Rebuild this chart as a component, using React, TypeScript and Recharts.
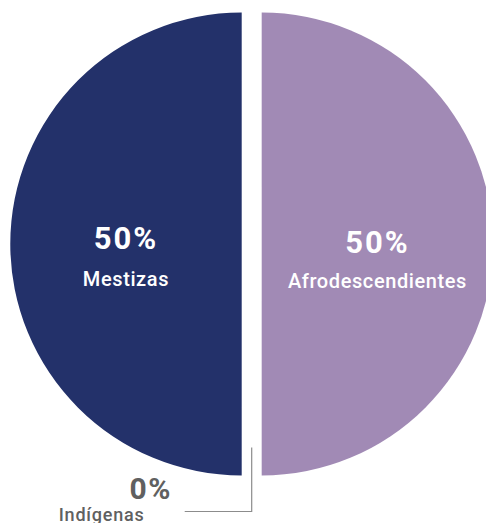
import { PieChart, Pie, Cell } from "recharts";

// Población por autoidentificación étnica (%)
const categories = ["Afrodescendientes", "Indígenas", "Mestizas"];
const shares = [50, 0, 50];
const colors = ["#a18ab5", "#8a8a8a", "#23316a"];

const data = categories.map((name, i) => ({ name, value: shares[i] }));

const RADIAN = Math.PI / 180;
const GAP = 20;
const CX = 251.7;
const CY = 244;
const R = 231.5;
const FONT = "Roboto, 'DejaVu Sans', sans-serif";

type Side = "left" | "right";

// which slices each half of the exploded pie draws
const showsSlice = (side: Side, name: string) =>
  side === "left" ? name === "Mestizas" : name === "Afrodescendientes";

function makeLabel(side: Side) {
  return (props: any) => {
    const { cx, cy, midAngle, outerRadius, value, name } = props;
    const cos = Math.cos(-midAngle * RADIAN);
    const sin = Math.sin(-midAngle * RADIAN);

    if (name === "Indígenas") {
      if (side !== "left") return null;
      const px = cx + outerRadius * cos + GAP / 2;
      const py = cy + outerRadius * sin;
      return (
        <g>
          <polyline
            points={`${px},${py - 28} ${px},${py + 36} ${px - 67},${py + 36}`}
            fill="none"
            stroke="#8c8c8c"
            strokeWidth={1.2}
          />
          <text
            x={px - 101}
            y={py + 23}
            textAnchor="middle"
            fill="#606060"
            fontFamily={FONT}
            fontWeight={700}
            fontSize={30}
            letterSpacing={1.5}
          >
            {`${value}%`}
          </text>
          <text
            x={px - 150}
            y={py + 45}
            textAnchor="middle"
            fill="#606060"
            fontFamily={FONT}
            fontWeight={500}
            fontSize={18}
            letterSpacing={0.8}
          >
            {name}
          </text>
        </g>
      );
    }

    if (!showsSlice(side, name)) return null;
    const x = cx + outerRadius * 0.5 * cos;
    const y = cy + outerRadius * 0.5 * sin;
    const dy = side === "right" ? 4 : 0;
    return (
      <g>
        <text
          x={x}
          y={y + 5 + dy}
          textAnchor="middle"
          fill="#fff"
          fontFamily={FONT}
          fontWeight={700}
          fontSize={31}
          letterSpacing={2}
        >
          {`${value}%`}
        </text>
        <text
          x={x}
          y={y + 42 + dy / 2}
          textAnchor="middle"
          fill="#fff"
          fontFamily={FONT}
          fontWeight={500}
          fontSize={20}
          letterSpacing={0.6}
        >
          {name}
        </text>
      </g>
    );
  };
}

export default function App() {
  return (
    <div style={{ position: "absolute", left: 0, top: 0, width: 486, height: 523, background: "#fff" }}>
      <PieChart width={486} height={523} margin={{ top: 0, right: 0, bottom: 0, left: 0 }}>
        {(["left", "right"] as Side[]).map((side) => (
          <Pie
            key={side}
            data={data}
            dataKey="value"
            nameKey="name"
            cx={side === "left" ? CX - GAP / 2 : CX + GAP / 2}
            cy={CY}
            outerRadius={R}
            startAngle={90}
            endAngle={-270}
            stroke="none"
            label={makeLabel(side)}
            labelLine={false}
            isAnimationActive={false}
          >
            {data.map((d, i) => (
              <Cell key={d.name} fill={showsSlice(side, d.name) ? colors[i] : "none"} />
            ))}
          </Pie>
        ))}
      </PieChart>
    </div>
  );
}
